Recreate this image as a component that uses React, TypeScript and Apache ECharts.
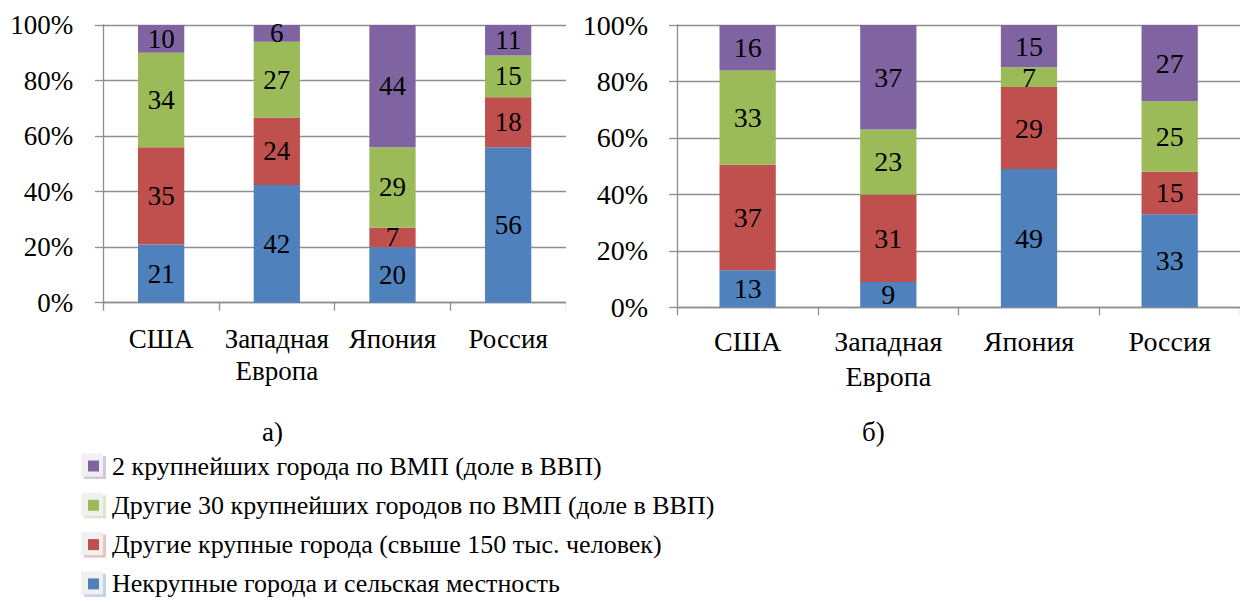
import React, { useEffect, useRef } from "react";
import * as echarts from "echarts";

// ---------- DATA ----------
const categories = ["США", "Западная\nЕвропа", "Япония", "Россия"];
const seriesNames = [
  "Некрупные города и сельская местность",
  "Другие крупные города (свыше 150 тыс. человек)",
  "Другие 30 крупнейших городов по ВМП (доле в ВВП)",
  "2 крупнейших города по ВМП (доле в ВВП)",
];
const seriesColors = ["#4F81BD", "#C0504D", "#9BBB59", "#8064A2"];

// chart а)
const aSmall = [21, 42, 20, 56];
const aLarge = [35, 24, 7, 18];
const aTop30 = [34, 27, 29, 15];
const aTop2 = [10, 6, 44, 11];

// chart б)
const bSmall = [13, 9, 49, 33];
const bLarge = [37, 31, 29, 15];
const bTop30 = [33, 23, 7, 25];
const bTop2 = [16, 37, 15, 27];

const yMin = 0;
const yMax = 100;
const yStep = 20;

const FONT = "Liberation Serif";
const GRID_COLOR = "#8E8E8E";

type Geom = {
  left: number;
  top: number;
  width: number;
  height: number;
  fontSize: number;
  labelLineHeight: number;
  xLabelMargin: number;
  yLabelMargin: number;
};

function buildChartOption(values: number[][], g: Geom) {
  const totals = categories.map((_, j) =>
    values.reduce((s, arr) => s + arr[j], 0)
  );
  return {
    animation: false,
    textStyle: { fontFamily: FONT },
    grid: { left: g.left, top: g.top, width: g.width, height: g.height },
    xAxis: {
      type: "category",
      data: categories,
      axisLine: { show: true, lineStyle: { color: GRID_COLOR, width: 1.3 } },
      axisTick: {
        show: true,
        alignWithLabel: false,
        interval: 0,
        length: 8,
        lineStyle: { color: GRID_COLOR, width: 1.3 },
      },
      axisLabel: {
        interval: 0,
        margin: g.xLabelMargin,
        color: "#000",
        fontFamily: FONT,
        fontSize: g.fontSize,
        lineHeight: g.labelLineHeight,
      },
      splitLine: { show: false },
    },
    yAxis: {
      type: "value",
      min: yMin,
      max: yMax,
      interval: yStep,
      axisLine: { show: true, lineStyle: { color: GRID_COLOR, width: 1.3 } },
      axisTick: {
        show: true,
        length: 8.3,
        lineStyle: { color: GRID_COLOR, width: 1.3 },
      },
      axisLabel: {
        margin: g.yLabelMargin,
        color: "#000",
        fontFamily: FONT,
        fontSize: g.fontSize,
        formatter: "{value}%",
      },
      splitLine: { show: true, lineStyle: { color: GRID_COLOR, width: 1.3 } },
    },
    series: values.map((arr, si) => ({
      name: seriesNames[si],
      type: "bar",
      stack: "total",
      barWidth: "40%",
      itemStyle: { color: seriesColors[si] },
      data: arr.map((v, j) => (v / totals[j]) * 100),
      label: {
        show: true,
        position: "inside",
        color: "#000",
        fontFamily: FONT,
        fontSize: g.fontSize,
        formatter: (p: any) => String(values[p.seriesIndex][p.dataIndex]),
      },
    })),
  };
}

const legendOrder = [3, 2, 1, 0];

function buildLegendOption() {
  const rowCenters = [66, 105.3, 144.6, 183.9];
  const decor: any[] = [];
  legendOrder.forEach((si, i) => {
    const cy = rowCenters[i];
    decor.push({
      type: "rect",
      shape: { x: 84, y: cy - 10, width: 22, height: 23 },
      style: { fill: seriesColors[si], opacity: 0.35 },
      z: 0,
    });
    decor.push({
      type: "rect",
      shape: { x: 81, y: cy - 12.5, width: 22, height: 23 },
      style: { fill: "#F0F0F0" },
      z: 1,
    });
  });
  return {
    animation: false,
    textStyle: { fontFamily: FONT },
    grid: { left: 0, top: 0, width: 10, height: 10, show: false },
    xAxis: { type: "category", show: false, data: [] },
    yAxis: { type: "value", show: false },
    graphic: [
      ...decor,
      {
        type: "text",
        left: 262,
        top: 18,
        style: { text: "а)", fontFamily: FONT, fontSize: 27, fill: "#000" },
      },
      {
        type: "text",
        left: 862,
        top: 18,
        style: { text: "б)", fontFamily: FONT, fontSize: 27, fill: "#000" },
      },
    ],
    legend: {
      orient: "vertical",
      left: 88,
      top: 53,
      padding: 0,
      itemWidth: 11,
      itemHeight: 11,
      itemGap: 13.3,
      icon: "rect",
      data: legendOrder.map((si) => seriesNames[si]),
      textStyle: {
        fontFamily: FONT,
        fontSize: 26,
        lineHeight: 26,
        color: "#000",
        padding: [0, 0, 0, 8],
      },
      selectedMode: false,
    },
    series: seriesNames.map((n, si) => ({
      name: n,
      type: "bar",
      data: [],
      itemStyle: { color: seriesColors[si] },
    })),
  };
}

function ChartBox(props: {
  left: number;
  top: number;
  width: number;
  height: number;
  build: () => any;
}) {
  const ref = useRef<HTMLDivElement>(null);
  useEffect(() => {
    if (!ref.current) return;
    const chart = echarts.init(ref.current, undefined, { renderer: "svg" });
    chart.setOption(props.build());
    return () => chart.dispose();
  }, []);
  return (
    <div
      ref={ref}
      style={{
        position: "absolute",
        left: props.left,
        top: props.top,
        width: props.width,
        height: props.height,
        overflow: "hidden",
      }}
    />
  );
}

const buildLeft = () =>
  buildChartOption([aSmall, aLarge, aTop30, aTop2], {
    left: 103.3,
    top: 25,
    width: 481.2,
    height: 277.7,
    fontSize: 27,
    labelLineHeight: 32,
    xLabelMargin: 20,
    yLabelMargin: 30,
  });

const buildRight = () =>
  buildChartOption([bSmall, bLarge, bTop30, bTop2], {
    left: 111.3,
    top: 25,
    width: 588,
    height: 282.3,
    fontSize: 28,
    labelLineHeight: 35,
    xLabelMargin: 17,
    yLabelMargin: 29.3,
  });

export default function App() {
  return (
    <div
      style={{
        position: "absolute",
        left: 0,
        top: 0,
        width: 1240,
        height: 603,
        background: "#fff",
        overflow: "hidden",
      }}
    >
      <ChartBox left={0} top={0} width={566} height={400} build={buildLeft} />
      <ChartBox left={566} top={0} width={674} height={400} build={buildRight} />
      <ChartBox left={0} top={400} width={1240} height={203} build={buildLegendOption} />
    </div>
  );
}
